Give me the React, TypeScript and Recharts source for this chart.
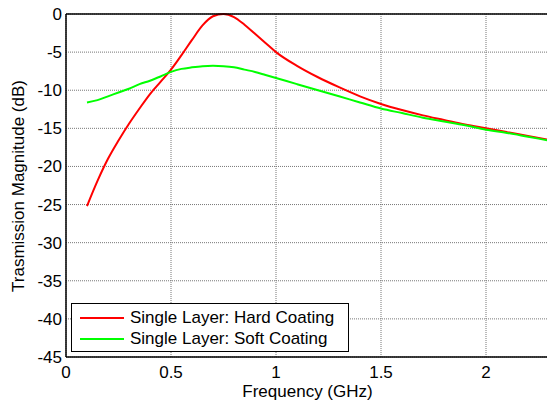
import React from 'react'
import {
  LineChart,
  Line,
  XAxis,
  YAxis,
  CartesianGrid,
  Label,
} from 'recharts'

const freqs = [
  0.1, 0.15, 0.2, 0.25, 0.3, 0.35, 0.4, 0.45, 0.5, 0.55, 0.6, 0.65, 0.7, 0.75, 0.8, 0.85,
  0.9, 0.95, 1.0, 1.1, 1.2, 1.3, 1.4, 1.5, 1.6, 1.7, 1.8, 1.9, 2.0, 2.1, 2.2, 2.3,
]
const hardCoating = [
  -25.2, -21.9, -19.0, -16.6, -14.4, -12.4, -10.5, -8.9, -7.3, -5.4, -3.4, -1.5, -0.3, 0,
  -0.4, -1.4, -2.6, -3.8, -5.0, -6.8, -8.3, -9.6, -10.8, -11.8, -12.6, -13.3, -13.9,
  -14.5, -15.0, -15.5, -16.0, -16.5,
]
const softCoating = [
  -11.6, -11.3, -10.8, -10.3, -9.8, -9.2, -8.75, -8.2, -7.6, -7.2, -7.0, -6.85, -6.8,
  -6.85, -7.0, -7.3, -7.6, -8.0, -8.4, -9.2, -10.0, -10.8, -11.6, -12.4, -13.0, -13.6,
  -14.1, -14.6, -15.2, -15.6, -16.1, -16.6,
]
const xTicks = [0, 0.5, 1, 1.5, 2]
const yTicks = [-45, -40, -35, -30, -25, -20, -15, -10, -5, 0]

const legendItems = [
  { color: '#ff0000', label: 'Single Layer: Hard Coating' },
  { color: '#00ff00', label: 'Single Layer: Soft Coating' },
]

const data = freqs.map((f, i) => ({ f, hard: hardCoating[i], soft: softCoating[i] }))

const font = '"Liberation Sans", Arial, sans-serif'
const tickStyle = { fontSize: 17, fill: '#000', fontFamily: font }

function LegendBox() {
  return (
    <div
      style={{
        position: 'absolute',
        left: 71,
        top: 303,
        border: '1px solid #000',
        background: '#fff',
        width: 276,
        height: 47,
        fontFamily: font,
        fontSize: 17,
        color: '#000',
      }}
    >
      {legendItems.map((item, i) => (
        <div
          key={item.label}
          style={{ display: 'flex', alignItems: 'center', height: 21, marginTop: i === 0 ? 3 : 0 }}
        >
          <div style={{ width: 44, height: 2, background: item.color, marginLeft: 8, marginRight: 6 }} />
          <span style={{ whiteSpace: 'nowrap' }}>{item.label}</span>
        </div>
      ))}
    </div>
  )
}

export default function App() {
  return (
    <div style={{ position: 'absolute', left: 0, top: 0, width: 547, height: 405, overflow: 'hidden', background: '#fff' }}>
      <LineChart
        width={549}
        height={405}
        data={data}
        margin={{ top: 0, right: 0, left: 0, bottom: 0 }}
        style={{ fontFamily: font }}
      >
        <CartesianGrid stroke="#777" strokeDasharray="1 1" />
        <XAxis
          dataKey="f"
          type="number"
          domain={[0, 2.3]}
          ticks={xTicks}
          height={48}
          axisLine={{ stroke: '#000', strokeWidth: 1.5 }}
          tickLine={false}
          tickSize={6}
          tickMargin={3}
          tick={tickStyle}
        >
          <Label value="Frequency (GHz)" position="insideBottom" offset={8} style={{ fontSize: 17, fill: '#000', fontFamily: font }} />
        </XAxis>
        <XAxis
          xAxisId="top"
          orientation="top"
          dataKey="f"
          type="number"
          domain={[0, 2.3]}
          ticks={xTicks}
          height={14}
          axisLine={{ stroke: '#000', strokeWidth: 1.5 }}
          tickLine={{ stroke: '#000' }}
          tickSize={-5}
          tick={false}
        />
        <YAxis
          type="number"
          domain={[-45, 0]}
          ticks={yTicks}
          width={66}
          axisLine={{ stroke: '#000', strokeWidth: 1.5 }}
          tickLine={false}
          tickSize={2}
          tickMargin={2}
          tick={tickStyle}
        >
          <Label
            content={() => (
              <text
                x={18}
                y={186}
                transform="rotate(-90 18 186)"
                textAnchor="middle"
                dominantBaseline="central"
                style={{ fontSize: 17, fill: '#000', fontFamily: font }}
              >
                Trasmission Magnitude (dB)
              </text>
            )}
          />
        </YAxis>
        <YAxis
          yAxisId="right"
          orientation="right"
          type="number"
          domain={[-45, 0]}
          ticks={yTicks}
          width={0}
          axisLine={{ stroke: '#000', strokeWidth: 1.5 }}
          tickLine={{ stroke: '#000' }}
          tickSize={-5}
          tick={false}
        />
        <Line type="monotone" dataKey="hard" stroke="#ff0000" strokeWidth={2} dot={false} isAnimationActive={false} />
        <Line type="monotone" dataKey="soft" stroke="#00ff00" strokeWidth={2} dot={false} isAnimationActive={false} />
      </LineChart>
      <LegendBox />
    </div>
  )
}
